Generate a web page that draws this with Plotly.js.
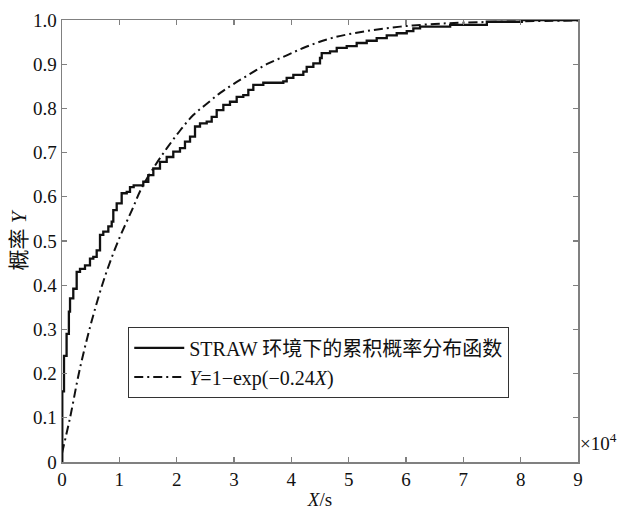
<!DOCTYPE html>
<html>
<head>
<meta charset="utf-8">
<script src="https://cdn.plot.ly/plotly-3.0.1.min.js"></script>
<style>html,body{margin:0;padding:0;background:#fff}</style>
</head>
<body>
<div id="chart" style="width:617px;height:510px"></div>
<script>
// Empirical CDF (STRAW), x in units of 1e4 s
const cdfX = [0, 0.005, 0.035, 0.08, 0.12, 0.14, 0.197, 0.256, 0.314, 0.401, 0.488, 0.546, 0.605, 0.663, 0.720, 0.808, 0.867, 0.895, 0.954, 1.041, 1.129, 1.186, 1.25, 1.418, 1.505, 1.593, 1.709, 1.826, 1.941, 2.058, 2.145, 2.233, 2.320, 2.407, 2.524, 2.611, 2.698, 2.814, 2.930, 3.047, 3.162, 3.250, 3.337, 3.511, 3.860, 3.919, 4.035, 4.209, 4.268, 4.384, 4.500, 4.530, 4.675, 4.792, 4.966, 5.140, 5.315, 5.489, 5.664, 5.838, 6.013, 6.128, 6.245, 6.77, 7.41, 8.02, 9.0];
const cdfY = [0, 0.16, 0.24, 0.29, 0.34, 0.37, 0.392, 0.430, 0.437, 0.445, 0.460, 0.464, 0.479, 0.514, 0.521, 0.533, 0.544, 0.570, 0.585, 0.608, 0.611, 0.622, 0.626, 0.634, 0.649, 0.664, 0.679, 0.690, 0.702, 0.710, 0.725, 0.736, 0.759, 0.766, 0.770, 0.781, 0.796, 0.808, 0.815, 0.826, 0.830, 0.842, 0.853, 0.858, 0.861, 0.869, 0.876, 0.883, 0.894, 0.902, 0.914, 0.925, 0.929, 0.937, 0.941, 0.948, 0.953, 0.959, 0.965, 0.970, 0.975, 0.981, 0.985, 0.989, 0.996, 1.0, 1.0];

// Fitted exponential curve
const fitX = [0, 0.14, 0.31, 0.52, 0.75, 0.98, 1.22, 1.39, 1.62, 1.83, 2.06, 2.29, 2.52, 2.76, 2.99, 3.28, 3.57, 3.92, 4.27, 4.73, 5.31, 5.90, 6.5, 7.0, 8.0, 9.0];
const fitY = [0.02, 0.10, 0.21, 0.32, 0.42, 0.50, 0.57, 0.62, 0.67, 0.71, 0.75, 0.785, 0.81, 0.835, 0.855, 0.878, 0.90, 0.92, 0.94, 0.96, 0.975, 0.985, 0.991, 0.994, 0.997, 0.999];

const xTickVals = [0, 1, 2, 3, 4, 5, 6, 7, 8, 9];
const xTickText = ["0", "1", "2", "3", "4", "5", "6", "7", "8", "9"];
const yTickVals = [0, 0.1, 0.2, 0.3, 0.4, 0.5, 0.6, 0.7, 0.8, 0.9, 1.0];
const yTickText = ["0", "0.1", "0.2", "0.3", "0.4", "0.5", "0.6", "0.7", "0.8", "0.9", "1.0"];

const seriesNames = ["STRAW 环境下的累积概率分布函数", "<i>Y</i>=1−exp(−0.24<i>X</i>)"];

const FONT = "'Liberation Serif', 'Times New Roman', 'Noto Sans CJK SC', serif";
const AX = "#808080";

const traces = [
  {x: cdfX, y: cdfY, type: "scatter", mode: "lines", name: seriesNames[0],
   line: {color: "#111", width: 2.3, shape: "hv"}},
  {x: fitX, y: fitY, type: "scatter", mode: "lines", name: seriesNames[1],
   line: {color: "#111", width: 2, dash: "9px,4px,2px,4px", shape: "spline"}}
];

const axisCommon = {
  showgrid: false, zeroline: false, showline: true, linecolor: AX, linewidth: 1.5,
  mirror: "ticks", ticks: "inside", ticklen: 5, tickwidth: 1.2, tickcolor: AX,
  tickfont: {family: FONT, size: 19, color: "#111"}, tickmode: "array"
};

const layout = {
  width: 617, height: 510,
  margin: {l: 62, r: 39, t: 20, b: 48},
  paper_bgcolor: "#fff", plot_bgcolor: "#fff",
  showlegend: true,
  legend: {x: 0.128, y: 0.305, xanchor: "left", yanchor: "top",
    bgcolor: "#fff", bordercolor: "#333", borderwidth: 1.2,
    font: {family: FONT, size: 20, color: "#111"}, itemwidth: 50,
    tracegroupgap: 0},
  xaxis: Object.assign({}, axisCommon, {range: [0, 9], tickvals: xTickVals, ticktext: xTickText,
    title: {text: "<i>X</i>/s", font: {family: FONT, size: 19, color: "#111"}, standoff: 4}}),
  yaxis: Object.assign({}, axisCommon, {range: [0, 1], tickvals: yTickVals, ticktext: yTickText,
    title: {text: "概率 <i>Y</i>", font: {family: FONT, size: 21, color: "#111"}, standoff: 0}}),
  annotations: [{xref: "paper", yref: "paper", x: 1.0, y: 0.045, xanchor: "left", yanchor: "middle",
    showarrow: false, text: "×10<sup>4</sup>", font: {family: FONT, size: 19, color: "#111"}}]
};

Plotly.newPlot("chart", traces, layout, {displayModeBar: false, staticPlot: true});
</script>
</body>
</html>
